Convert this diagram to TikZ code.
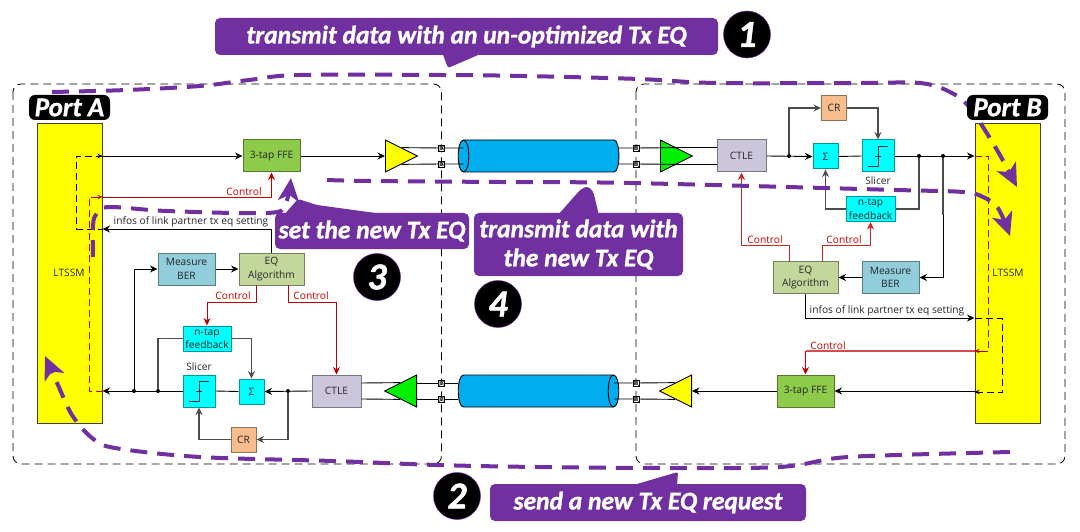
\documentclass[tikz,border=0pt]{standalone}
\usepackage{fontspec}
\setmainfont{Open Sans}
\newfontfamily\callfont{Carlito}[BoldItalicFeatures={FakeBold=1.2}]
\usetikzlibrary{arrows.meta,shapes.geometric}
\definecolor{purp}{HTML}{7030A0}
\definecolor{ctrl}{HTML}{C00000}
\definecolor{ffeg}{HTML}{8FCB4B}
\definecolor{bergb}{HTML}{92CDDC}
\definecolor{eqg}{HTML}{C3D69B}
\definecolor{ctleg}{HTML}{CCC6DC}
\definecolor{crg}{HTML}{F8BD8C}
\definecolor{cylb}{HTML}{00AEEF}
\definecolor{cy}{HTML}{00FFFF}
\definecolor{yel}{HTML}{FFFF00}
\definecolor{grn}{HTML}{00F000}
\tikzset{
  lab/.style={font=\fontsize{10.2}{13.5}\selectfont,align=center,text=black!85,inner sep=0pt},
  ctrllab/.style={font=\fontsize{10.2}{12}\selectfont,text=ctrl,inner sep=0pt},
  block/.style={draw=#1!60!black,line width=1pt,inner sep=0pt,align=center,font=\fontsize{10.2}{13.5}\selectfont,text=black!85},
  lt/.style={draw=black!75,line width=1pt,fill=yel,minimum width=65pt,minimum height=299pt,inner sep=0pt},
  region/.style={draw=black,line width=.8pt,dash pattern=on 8pt off 5pt,rounded corners=8pt},
  wire/.style={draw=black,line width=.9pt},
  gwire/.style={draw=black!70,line width=1.1pt},
  rwire/.style={draw=ctrl,line width=.9pt},
  tip/.style={-{Stealth[length=7.5pt,width=7pt]}},
  rtip/.style={-{Stealth[length=7.5pt,width=7pt]}},
  stip/.style={-{Stealth[length=5pt,width=4.5pt]}},
  bdash/.style={draw=black,line width=.9pt,dash pattern=on 7pt off 4pt},
  rdash/.style={draw=ctrl,line width=.8pt,dash pattern=on 7pt off 4pt},
  dot/.style={circle,fill=black,minimum size=4pt,inner sep=0pt},
  amp/.style={isosceles triangle,isosceles triangle stretches,draw=black,line width=.9pt,fill=#1,minimum width=32pt,minimum height=32pt,inner sep=0pt,anchor=lower side},
  pad/.style={draw=black,fill=white,line width=.7pt,minimum size=6pt,inner sep=0pt,
    path picture={\draw[line width=.35pt] (path picture bounding box.center) circle (1.9pt)
      (path picture bounding box.south west)--(path picture bounding box.north east)
      (path picture bounding box.north west)--(path picture bounding box.south east);}},
  cylbody/.style={draw=black,line width=.9pt,fill=cylb},
  call/.style={fill=purp,rounded corners=5pt,text=white,inner sep=0pt,align=center,font=\callfont\bfseries\itshape\fontsize{25.5}{29}\selectfont},
  num/.style={circle,fill=black,draw=purp,line width=.5pt,text=white,inner sep=0pt,minimum size=47pt,font=\callfont\bfseries\itshape\fontsize{38}{38}\selectfont},
  portlab/.style={fill=black,rounded corners=6pt,text=white,inner sep=0pt,minimum width=81pt,minimum height=25pt,font=\callfont\bfseries\itshape\fontsize{27}{27}\selectfont},
  purpline/.style={draw=purp,line width=4pt,dash pattern=on 17pt off 10pt},
  purptip/.style={-{Stealth[length=23pt,width=21pt,inset=6pt]}},
}
\begin{document}
\begin{tikzpicture}[x=1pt,y=-1pt]
\useasboundingbox (0,0) rectangle (1080,532);
\fill[white] (0,0) rectangle (1080,532);
% regions
\draw[region] (13,84) rectangle (441.5,464);
\draw[region] (636,84) rectangle (1065,464);
% LTSSM
\node[lt] (ltA) at (69.5,273.5) {};
\node[lt] (ltB) at (1007.5,273.5) {};
\node[lab] (ltAlab) at (69,273) {LTSSM};
\node[lab] (ltBlab) at (1008,273) {LTSSM};
% blocks, Port A side
\node[block=ffeg,fill=ffeg,minimum width=57pt,minimum height=32pt] (ffeA) at (271.5,156) {3-tap FFE};
\node[amp=yel] (ampA) at (385,156) {};
\node[pad] (pA1) at (441.5,148) {};
\node[pad] (pA2) at (441.5,164) {};
\node[pad] (pA3) at (441.5,383) {};
\node[pad] (pA4) at (441.5,399) {};
\node[block=bergb,fill=bergb,minimum width=57pt,minimum height=32pt] (berA) at (186.5,269) {Measure\\BER};
\node[block=eqg,fill=eqg,minimum width=65pt,minimum height=32pt] (eqA) at (271.5,269) {EQ\\Algorithm};
\node[block=cy,fill=cy,minimum width=48pt,minimum height=25pt] (fbA) at (207,338.5) {n-tap\\feedback};
\node[block=cy,fill=cy,minimum width=32pt,minimum height=32pt] (slA) at (199,391) {};
\node[block=cy,fill=cy,minimum width=25pt,minimum height=25pt] (sumA) at (251.5,391.5) {Σ};
\node[block=crg,fill=crg,minimum width=25pt,minimum height=25pt] (crA) at (243.5,439.5) {CR};
\node[block=ctleg,fill=ctleg,minimum width=49pt,minimum height=32pt] (ctleA) at (336.5,391) {CTLE};
\node[amp=grn,shape border rotate=180] (rxA) at (417,391) {};
\node[lab] (slAlab) at (199,367) {Slicer};
% blocks, Port B side
\node[block=ctleg,fill=ctleg,minimum width=49pt,minimum height=32pt] (ctleB) at (741.5,156) {CTLE};
\node[amp=grn] (rxB) at (660,156) {};
\node[pad] (pB1) at (636,148) {};
\node[pad] (pB2) at (636,164) {};
\node[pad] (pB3) at (636,383) {};
\node[pad] (pB4) at (636,399) {};
\node[block=cy,fill=cy,minimum width=25pt,minimum height=25pt] (sumB) at (825.5,156.5) {Σ};
\node[block=cy,fill=cy,minimum width=32pt,minimum height=32pt] (slB) at (878,156) {};
\node[block=crg,fill=crg,minimum width=25pt,minimum height=25pt] (crB) at (834,108) {CR};
\node[block=cy,fill=cy,minimum width=49pt,minimum height=25pt] (fbB) at (870.5,209) {n-tap\\feedback};
\node[block=bergb,fill=bergb,minimum width=57pt,minimum height=32pt] (berB) at (890.5,277.5) {Measure\\BER};
\node[block=eqg,fill=eqg,minimum width=65pt,minimum height=32pt] (eqB) at (805.5,277.5) {EQ\\Algorithm};
\node[block=ffeg,fill=ffeg,minimum width=57pt,minimum height=32pt] (ffeB) at (805.5,391) {3-tap FFE};
\node[amp=yel,shape border rotate=180] (ampB) at (692,391) {};
\node[lab] (slBlab) at (878,181) {Slicer};
% slicer glyphs
\draw[line width=.9pt,black!80] ([shift={(-10,10.5)}]slA.center) -- ++(10,0) -- ++(0,-20) -- ++(10,0);
\draw[line width=.5pt,black!80] ([shift={(-3,0)}]slA.center) -- ++(6,0);
\draw[line width=.9pt,black!80] ([shift={(-10,10.5)}]slB.center) -- ++(10,0) -- ++(0,-20) -- ++(10,0);
\draw[line width=.5pt,black!80] ([shift={(-3,0)}]slB.center) -- ++(6,0);
% cylinders
\draw[cylbody] (463.5,140) -- (614,140) .. controls (620.5,140) and (620.5,172) .. (614,172) -- (463.5,172) .. controls (456.5,172) and (456.5,140) .. (463.5,140) -- cycle;
\draw[line width=.9pt] (463.5,140) .. controls (470.5,140) and (470.5,172) .. (463.5,172);
\draw[cylbody] (463.5,375) -- (613.5,375) .. controls (620.5,375) and (620.5,407) .. (613.5,407) -- (463.5,407) .. controls (456.5,407) and (456.5,375) .. (463.5,375) -- cycle;
\draw[line width=.9pt] (613.5,375) .. controls (606.5,375) and (606.5,407) .. (613.5,407);
\coordinate (cTa) at (463.5,156);
\coordinate (cBa) at (614,391);
\coordinate (cTb) at (619,156);
\coordinate (cBb) at (458,391);
% top channel wires
\draw[wire] (ampA.left side) -- (pA1) -- (cTa |- pA1);
\draw[wire] (ampA.right side) -- (pA2) -- (cTa |- pA2);
\draw[wire] (cTb |- pB1) -- (pB1) -- (rxB.left side);
\draw[wire] (cTb |- pB2) -- (pB2) -- (rxB.right side);
\draw[wire] (rxB.left side) -- (rxB.left side -| ctleB.west);
\draw[wire] (rxB.right side) -- (rxB.right side -| ctleB.west);
% bottom channel wires
\draw[wire] (ctleA.east |- pA3) -- (rxA.right side);
\draw[wire] (ctleA.east |- pA4) -- (rxA.left side);
\draw[wire] (rxA.lower side |- pA3) -- (pA3) -- (cBb |- pA3);
\draw[wire] (rxA.lower side |- pA4) -- (pA4) -- (cBb |- pA4);
\draw[wire] (cBa |- pB3) -- (pB3) -- (ampB.right side);
\draw[wire] (cBa |- pB4) -- (pB4) -- (ampB.left side);
\node[pad] (pA1b) at (pA1) {};
\node[pad] (pA2b) at (pA2) {};
\node[pad] (pA3b) at (pA3) {};
\node[pad] (pA4b) at (pA4) {};
\node[pad] (pB1b) at (pB1) {};
\node[pad] (pB2b) at (pB2) {};
\node[pad] (pB3b) at (pB3) {};
\node[pad] (pB4b) at (pB4) {};
% Port A wires
\draw[wire,tip] (ltA.east |- ffeA) -- (ffeA.west);
\draw[wire,tip] (ffeA.east) -- (ampA.lower side);
\draw[wire,tip] (eqA.north) -- (eqA.north |- 0,229) -- (ltA.east |- 0,229);
\draw[wire,tip] (berA.east) -- (eqA.west);
\draw[rwire,rtip] (ltA.east |- 0,197) -- (ffeA.south |- 0,197) -- (ffeA.south);
\node[dot] (jA1) at (134,391) {};
\node[dot] (jA2) at (158,391) {};
\node[dot] (jA3) at (288,391) {};
\draw[wire,tip] (ctleA.west) -- (sumA.east);
\draw[wire] (sumA.west) -- (slA.east);
\draw[wire,tip] (slA.west) -- (ltA.east |- slA.west);
\draw[wire,tip] (jA1) -- (jA1 |- berA.west) -- (berA.west);
\draw[gwire] (jA2) -- (jA2 |- fbA.west) -- (fbA.west);
\draw[gwire,tip] (fbA.east) -- (sumA.north |- fbA.east) -- (sumA.north);
\draw[gwire,tip] (jA3) -- (jA3 |- crA.east) -- (crA.east);
\draw[gwire,tip] (crA.west) -- (slA.south |- crA.west) -- (slA.south);
\coordinate (eqAl) at (256,285);
\coordinate (eqAr) at (288,285);
\draw[rwire,rtip] (eqAl) -- (256,302) -- (fbA.north |- 0,302) -- (fbA.north);
\draw[rwire,rtip] (eqAr) -- (288,302) -- (ctleA.north |- 0,302) -- (ctleA.north);
% Port B wires
\node[dot] (jB1) at (789,156) {};
\node[dot] (jB2) at (919,156) {};
\node[dot] (jB3) at (943,156) {};
\draw[wire,tip] (ctleB.east) -- (sumB.west);
\draw[wire] (sumB.east) -- (slB.west);
\draw[wire,tip] (slB.east) -- (ltB.west |- slB.east);
\draw[gwire,tip] (jB1) -- (jB1 |- crB.west) -- (crB.west);
\draw[gwire,tip] (crB.east) -- (slB.north |- crB.east) -- (slB.north);
\draw[gwire] (jB2) -- (jB2 |- fbB.east) -- (fbB.east);
\draw[gwire,tip] (fbB.west) -- (sumB.south |- fbB.west) -- (sumB.south);
\draw[gwire] (jB3) -- (943,215);
\draw[wire,tip] (943,215) -- (943,277.5) -- (berB.east);
\draw[wire,tip] (berB.west) -- (eqB.east);
\coordinate (eqBl) at (789,261.5);
\coordinate (eqBr) at (822,261.5);
\draw[rwire,rtip,draw=ctrl!85] (eqBl) -- (789,245) -- (ctleB.south |- 0,245) -- (ctleB.south);
\draw[rwire,rtip,draw=ctrl!85] (eqBr) -- (822,245) -- (fbB.south |- 0,245) -- (fbB.south);
\draw[wire,tip] (eqB.south) -- (eqB.south |- 0,318) -- (ltB.west |- 0,318);
\draw[draw=ctrl!70,line width=1.3pt] (ltB.west |- 0,351) -- (ffeB.north |- 0,351);
\draw[rwire,rtip,line width=1.1pt] (ffeB.north |- 0,351) -- (ffeB.north);
\draw[wire,tip] (ltB.west |- ffeB.east) -- (ffeB.east);
\draw[wire,tip] (ffeB.west) -- (ampB.lower side);
% dashed links inside the LTSSM blocks
\draw[bdash] (ltA.east |- 0,156) -- (76,156) -- (76,229) -- (ltA.east |- 0,229);
\draw[wire,stip] (96,156) -- (ltA.east |- 0,156);
\draw[rdash] (ltA.east |- 0,391) -- (89,391) -- (89,197) -- (ltA.east |- 0,197);
\draw[rwire,stip] (96,197) -- (ltA.east |- 0,197);
\draw[bdash] (ltB.west |- 0,318) -- (1002,318) -- (1002,392) -- (ltB.west |- 0,392);
\draw[wire,stip] (981,392) -- (ltB.west |- 0,392);
\draw[rdash] (ltB.west |- 0,156) -- (988,156) -- (988,351) -- (ltB.west |- 0,351);
\draw[rwire,stip] (983,351) -- (ltB.west |- 0,351);
% labels
\node[ctrllab] (cl1) at (244,192) {Control};
\node[ctrllab] (cl2) at (233,296) {Control};
\node[ctrllab] (cl3) at (311,296) {Control};
\node[ctrllab] (cl4) at (765,240) {Control};
\node[ctrllab] (cl5) at (844,240) {Control};
\node[ctrllab] (cl6) at (828,346) {Control};
\node[lab] (inf1) at (191,222) {infos of link partner tx eq setting};
\node[lab] (inf2) at (887,311) {infos of link partner tx eq setting};
% purple paths
\draw[purpline,purptip] plot[smooth,tension=.55] coordinates {(52,92) (127,90) (200,86) (249,80) (299,75) (441,75) (524,76) (639,79) (716,83) (860,83) (920,83) (950,92) (970,108) (997,150) (1017,187)};
\draw[purpline,purptip] plot[smooth,tension=.55] coordinates {(1010,452) (897,455) (837,458) (780,467) (670,468) (537,467) (437,465) (333,461) (200,457) (115,448) (92,438) (72,415) (58,385) (45,356)};
\draw[purpline,purptip] plot[smooth,tension=.55] coordinates {(93,257) (93,225) (97,213) (110,207) (167,211) (267,213) (285,205) (291,178)};
\draw[purpline,purptip] plot[smooth,tension=.55] coordinates {(327,180) (370,181) (500,182) (630,183) (897,190) (963,192) (983,197) (998,208) (1010,236)};
% callouts
\fill[purp,rounded corners=2pt] (442,52) -- (448,68) -- (485,52) -- cycle;
\node[call,minimum width=503pt,minimum height=37pt] (c1) at (466.5,36.5) {transmit data with an un-optimized Tx EQ};
\node[num] (n1) at (747,34.5) {1};
\fill[purp,rounded corners=2pt] (630,486) -- (678,472) -- (677,486) -- cycle;
\node[call,minimum width=316pt,minimum height=37pt] (c2) at (648,502.5) {send a new Tx EQ request};
\node[num] (n2) at (457,496) {2};
\fill[purp,rounded corners=2pt] (283,216) -- (298,199) -- (317,205) -- (390,215) -- cycle;
\node[call,minimum width=194pt,minimum height=36pt] (c3) at (372,231) {set the new Tx EQ};
\node[num] (n3) at (377,277) {3};
\fill[purp,rounded corners=3pt] (558,215) -- (580,190) -- (587,186) -- (593,191) -- (599,215) -- cycle;
\node[call,minimum width=209pt,minimum height=63pt] (c4) at (578.5,244.5) {transmit data with\\the new Tx EQ};
\node[num] (n4) at (498,304) {4};
% port labels
\node[portlab] (portA) at (69.5,107.5) {Port A};
\node[portlab] (portB) at (1007.5,107.5) {Port B};
\end{tikzpicture}
\end{document}
